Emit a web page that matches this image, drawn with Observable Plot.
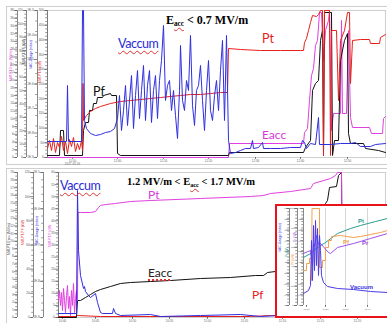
<!DOCTYPE html>
<html><head><meta charset="utf-8">
<script src="https://cdn.jsdelivr.net/npm/d3@7"></script>
<script src="https://cdn.jsdelivr.net/npm/@observablehq/plot@0.6"></script>
<style>
html,body{margin:0;padding:0;background:#fff}
body{width:387px;height:323px;overflow:hidden;position:relative}
.box{position:absolute;box-sizing:border-box;border:1px solid #cfcfcf;background:#fff}
.ch{position:absolute}
.lbl{position:absolute;font-family:Lato,"Open Sans",sans-serif;white-space:nowrap;line-height:1}
.ttl{position:absolute;font-family:"Liberation Serif",serif;font-weight:bold;white-space:nowrap;line-height:1;color:#000}
.ttl sub{font-size:0.6em;vertical-align:-0.25em;text-decoration:underline wavy #e03030;text-decoration-thickness:1px}
.sp{text-decoration:underline wavy #e03030;text-decoration-thickness:1px;text-underline-offset:2px}
.dot{text-decoration:underline dotted #e03030;text-decoration-thickness:1.5px;text-underline-offset:2px}
.il{position:absolute;font-family:"Liberation Sans",sans-serif;font-weight:bold;font-size:6px;line-height:1;white-space:nowrap}
#inset{position:absolute;left:275px;top:204px;width:114px;height:114px;box-sizing:border-box;border:2px solid #e8141c;background:#fff}
</style></head><body>
<div class="box" style="left:6px;top:6px;width:382px;height:159px"></div>
<div class="box" style="left:6px;top:168px;width:382px;height:156px"></div>
<div id="top" class="ch" style="left:7px;top:7px"></div>
<div id="bot" class="ch" style="left:7px;top:168px"></div>
<div id="inset"><div id="ins" style="position:absolute;left:0;top:0"></div></div>

<div class="ttl" style="left:166px;top:14px;font-size:12px">E<sub>acc</sub> &lt; 0.7 MV/m</div>
<div class="lbl sp" style="left:118px;top:38px;font-size:12.5px;color:#2a2ad6;letter-spacing:-0.4px">Vaccum</div>
<div class="lbl" style="left:93px;top:86px;font-size:12.5px;color:#111">Pf</div>
<div class="lbl" style="left:262px;top:33px;font-size:12.5px;color:#e8201c">Pt</div>
<div class="lbl" style="left:262px;top:129px;font-size:12px;color:#d63ad6">Eacc</div>

<div class="ttl" style="left:127px;top:177px;font-size:10.5px">1.2 MV/m &lt; E<sub>acc</sub> &lt; 1.7 MV/m</div>
<div class="lbl sp" style="left:60px;top:180px;font-size:12.5px;color:#2a2ad6;letter-spacing:-0.4px">Vaccum</div>
<div class="lbl" style="left:148px;top:189px;font-size:12px;color:#d63ad6">Pt</div>
<div class="lbl dot" style="left:148px;top:267px;font-size:12px;color:#222">Eacc</div>
<div class="lbl" style="left:252px;top:289px;font-size:12px;color:#e8201c">Pf</div>

<div class="il" style="left:358px;top:218px;color:#2a9d8f">Pt</div>
<div class="il" style="left:343px;top:239px;color:#f0a04a">Pf</div>
<div class="il" style="left:362px;top:240px;color:#9a4ae0">Pr</div>
<div class="il" style="left:350px;top:284px;color:#3a3ae0">Vacuum</div>

<script>
// ===================== DATA =====================
// Top panel (Eacc < 0.7 MV/m): [time, value] pairs, time & value in chart units
const topPt = [[0,9],[2,17],[4,7],[6,19],[8,5],[10,15],[12,10],[14,21],[16,7],[18,16],[20,4],[22,18],[24,11],[26,20],[28,6],[30,14],[32,8],[34,17],[35,7],[35.5,74],[36,37],[39,42],[43,46],[48,49],[53,51],[63,54],[73,56],[83,57],[93,58],[103,59],[113,60],[123,61],[133,62],[143,63],[153,63],[163,64],[173,65],[180,65],[181,109],[193,108],[213,107],[233,107],[253,107],[256,107],[257,115],[259,119],[261,127],[263,135],[265,142],[269,141],[271,143],[273,147],[275,147],[276,2],[277,147],[282,147],[283,2],[284,127],[289,127],[291,57],[293,117],[297,127],[300,145],[302,145],[303,74],[305,117],[313,118],[322,118],[323,114],[332,114],[333,120],[338,123]];
const topVacuum = [[0,16],[19,16],[20,72],[21,16],[34,16],[35,147],[36,147],[37,37],[39,29],[43,24],[48,22],[53,23],[58,25],[63,26],[67,29],[70,39],[72,62],[74,27],[76,47],[78,72],[80,32],[82,57],[84,82],[86,29],[88,62],[90,87],[92,39],[94,67],[96,92],[98,37],[100,72],[102,87],[104,35],[106,67],[108,82],[110,39],[112,77],[114,97],[116,132],[118,57],[120,72],[122,77],[124,47],[126,67],[128,42],[130,19],[132,67],[133,112],[135,57],[137,47],[139,77],[141,67],[143,122],[145,52],[147,32],[149,67],[151,72],[153,92],[155,57],[157,27],[159,67],[161,97],[163,47],[165,37],[167,62],[169,77],[171,47],[173,87],[175,117],[177,37],[179,122],[181,17],[183,4],[188,5],[193,7],[198,9],[203,9],[205,17],[206,9],[211,10],[215,15],[216,9],[223,9],[233,9],[243,10],[253,10],[255,17],[257,15],[259,9],[263,14],[268,13],[271,40],[272,13],[283,13],[293,14],[303,14],[308,15],[313,11],[323,11],[328,13],[338,14]];
const topPf = [[0,2],[12,2],[13,27],[16,27],[17,2],[35,2],[36,27],[38,35],[41,35],[42,47],[45,47],[46,54],[49,54],[50,60],[55,60],[56,62],[63,64],[64,62],[69,62],[70,4],[73,2],[181,2],[182,5],[256,5],[258,10],[263,17],[265,67],[268,74],[271,77],[273,117],[275,127],[276,2],[277,145],[284,145],[285,2],[287,17],[291,17],[293,97],[297,117],[300,124],[301,24],[303,14],[316,14],[318,9],[331,7],[338,5]];
const topEacc = [[0,0],[181,0],[182,14],[256,14],[257,25],[260,29],[262,57],[264,82],[266,89],[268,112],[270,117],[272,145],[274,145],[276,97],[278,127],[281,137],[282,147],[284,27],[286,44],[291,44],[293,44],[294,137],[295,44],[299,44],[301,127],[303,40],[305,30],[322,30],[324,24],[335,24],[336,39],[338,41]];
const topTimeTicks = [25,70,116,161,208,253,300];
const topTimeLabels = ["11:50\n2017-05-16","12:00","12:10","12:20","12:30","12:40","12:50"];

// Bottom panel (1.2 < Eacc < 1.7 MV/m)
const botPt = [[0,17],[1,27],[2,12],[3,25],[4,7],[5,29],[6,17],[7,5],[8,22],[9,32],[10,9],[11,21],[12,2],[13,27],[14,12],[15,34],[16,5],[17,19],[18,27],[19,17],[19.5,105],[22,105],[32,105],[37,106],[40,110],[42,112],[47,113],[57,114],[72,116],[92,117],[142,119],[192,121],[205,122],[212,124],[232,126],[252,129],[255,134],[272,139],[277,142],[279,145],[283,145],[284,2],[327,2]];
const botEacc = [[0,0],[18,0],[19,17],[22,17],[27,20],[32,23],[37,26],[42,28],[52,31],[62,34],[72,35],[92,36],[112,37],[142,39],[172,40],[197,42],[205,42],[209,45],[217,46],[242,57],[262,80],[267,114],[269,117],[271,130],[278,131],[280,142],[283,145],[284,0],[327,0]];
const botVacuum = [[0,4],[18,4],[19,127],[20,67],[22,42],[25,29],[26,31],[27,26],[30,22],[32,20],[37,24],[39,15],[42,5],[44,4],[54,4],[55,9],[57,4],[62,2],[92,3],[102,1],[142,2],[182,3],[202,1],[222,2],[279,2],[280,12],[282,1],[327,1]];
const botPf = [[0,1],[18,1],[19,2],[42,1],[192,1],[212,2],[242,2],[278,1],[280,12],[282,1],[327,2]];
const botTimeTicks = [4,37,74,111,149,186,224,262,299];
const botTimeLabels = ["10:40","10:45","10:50","10:55","11:00","11:05","11:10","11:15","11:20"];

// Inset (zoom of RF conditioning event)
const insPt = [[0,48],[7,52],[14,58],[22,63],[34,72],[47,77],[57,80],[72,84],[84,87]];
const insPf = [[0,35],[3,35],[3,42],[6,42],[6,47],[8,47],[8,25],[8.5,97],[16,97],[16,38],[19,38],[19,45],[22,45],[22,58],[25,58],[25,65],[28,65],[28,69],[37,70],[50,68],[57,69],[67,71],[77,73],[84,75]];
const insPr = [[0,52],[7,55],[9,40],[10,62],[11,59],[13,70],[15,61],[17,62],[25,53],[27,52],[34,58],[50,62],[67,67],[84,72]];
const insVacuum = [[0,12],[5,15],[7,20],[8,65],[9,25],[10,80],[11,35],[12,85],[13,40],[14,77],[15,30],[16,70],[17,55],[18,30],[20,23],[24,19],[34,17],[50,16],[67,14],[84,13]];
const insGrid = [22,42,64,84];
const insTimeTicks = [3,22,42,64];
const insTimeLabels = ["17:10","17:20","17:30","17:40"];

// Left axis tick labels
const topAxisA = ["0","2","4","6","8","10","12","14","16","18","20","22","24","26","28","30","32","34","36","38"];
const topAxisB = ["0","10","20","30","40","50","60","70","80","90","100","110"];
const topAxisC = ["1E-9","1E-8","1E-7","1E-6","1E-5","1E-4","1E-3"];
const topAxisD = ["0","50","100","150","200","250","300","350","400","450","500"];
const botAxisA = ["0","1","2","3","4","5","6","7","8","9","10","11","12","13","14","15","16","17","18","19"];
const botAxisB = ["0","20","40","60","80","100","120"];
const botAxisC = ["1E-9","1E-8","1E-7","1E-6","1E-5"];
const botAxisD = ["0","5","10","15","20","25","30","35","40","45","50","55","60"];
const insAxisA = ["0","1","2","3","4","5","6","7","8","9"];
const insAxisB = ["0","20","40","60","80","100"];
const topAxisNames = ["MW-PT-Eacc (MV/m)","MW-PT-PF (kW)","VAC-Gauge (mbar)","MW-PT-Pt (W)"];
const botAxisNames = ["MW-PT-Eacc (MV/m)","MW-PT-PF (kW)","VAC-Gauge (mbar)","MW-PT-Pt (W)"];

// ===================== HELPERS =====================
const C = {red:"#e8201c", blue:"#2f2fe0", black:"#111", mag:"#e040e0", teal:"#2a9d8f", orange:"#f5a04a", purple:"#a050e8"};
const ln = (data, stroke, w=1) => Plot.line(data, {x: d => d[0], y: d => d[1], stroke, strokeWidth: w});
function column(ymax, labels, minorN, dx, color, fs) {
  const major = labels.map((_, i) => i * ymax / (labels.length - 1));
  const m = new Map(major.map((v, i) => [v, labels[i]]));
  const minor = d3.range(minorN + 1).map(i => i * ymax / minorN);
  return [
    Plot.ruleX([0], {dx, stroke: "#555", strokeWidth: 0.7}),
    Plot.axisY({ticks: minor, tickSize: 1.8, tickFormat: () => "", dx, stroke: color, label: null, strokeWidth: 0.6}),
    Plot.axisY({ticks: major, tickSize: 3.2, tickPadding: 0.6, tickFormat: d => m.get(d) ?? "", dx, fill: color, stroke: color, fontSize: fs, label: null, strokeWidth: 0.7})
  ];
}
function xAxis(ticks, labels, fs) {
  const m = new Map(ticks.map((v, i) => [v, labels[i]]));
  return Plot.axisX({ticks, tickFormat: d => m.get(d) ?? "", tickSize: 1.8, tickPadding: 0.8, fontSize: fs, fill: "#666", stroke: "#666", label: null, lineHeight: 1});
}
const vname = (t, dx, dy, fill) => Plot.text([t], {frameAnchor: "left", dx, dy, rotate: -90, fill, fontSize: 3.4, text: d => d});

// ===================== TOP PANEL =====================
const topChart = Plot.plot({
  width: 380, height: 158, marginLeft: 40, marginRight: 2, marginTop: 3, marginBottom: 8,
  x: {domain: [0, 338]}, y: {domain: [0, 147]},
  style: {fontFamily: "Liberation Sans, sans-serif", fontSize: "4px", background: "transparent", overflow: "visible"},
  marks: [
    Plot.frame({stroke: "#bbb", strokeWidth: 0.7}),
    ...column(147, topAxisA, 40, -30, "#555", 3),
    ...column(147, topAxisB, 40, -21, "#555", 3),
    ...column(147, topAxisC, 14, -10, "#555", 3),
    ...column(147, topAxisD, 40, 0, "#555", 3),
    vname(topAxisNames[0], -37, -3, "#e040e0"),
    vname(topAxisNames[1], -24, -20, "#333"),
    vname(topAxisNames[2], -17, -15, "#3030e0"),
    vname(topAxisNames[3], -8, -1, "#e8201c"),
    xAxis(topTimeTicks, topTimeLabels, 3),
    ln(topEacc, C.mag),
    ln(topPf, C.black),
    ln(topPt, C.red),
    ln(topVacuum, C.blue)
  ]
});
document.getElementById("top").append(topChart);

// ===================== BOTTOM PANEL =====================
const botChart = Plot.plot({
  width: 380, height: 155, marginLeft: 51, marginRight: 2, marginTop: 4, marginBottom: 6,
  x: {domain: [0, 327]}, y: {domain: [0, 145]},
  style: {fontFamily: "Liberation Sans, sans-serif", fontSize: "4px", background: "transparent", overflow: "visible"},
  marks: [
    Plot.frame({stroke: "#bbb", strokeWidth: 0.7}),
    ...column(145, botAxisA, 40, -41, "#555", 3),
    ...column(145, botAxisB, 28, -25, "#555", 3),
    ...column(145, botAxisC, 20, -15, "#555", 3),
    ...column(145, botAxisD, 40, 0, "#555", 3),
    vname(botAxisNames[0], -50, 10, "#333"),
    vname(botAxisNames[1], -36, 0, "#e8201c"),
    vname(botAxisNames[2], -22, 0, "#3030e0"),
    vname(botAxisNames[3], -9, 2, "#e040e0"),
    xAxis(botTimeTicks, botTimeLabels, 3),
    ln(botPf, C.red),
    ln(botEacc, C.black),
    ln(botPt, C.mag),
    ln(botVacuum, C.blue)
  ]
});
document.getElementById("bot").append(botChart);

// ===================== INSET =====================
const insChart = Plot.plot({
  width: 110, height: 110, marginLeft: 26, marginRight: 0, marginTop: 2, marginBottom: 11,
  x: {domain: [0, 84]}, y: {domain: [0, 97]},
  style: {fontFamily: "Liberation Sans, sans-serif", fontSize: "3px", background: "transparent", overflow: "visible"},
  marks: [
    Plot.ruleX(insGrid, {stroke: "#bbb", strokeWidth: 0.6}),
    ...column(97, insAxisA, 30, -14, "#555", 2.4),
    ...column(97, insAxisB, 30, -6, "#555", 2.4),
    ...column(97, insAxisA, 30, 0, "#555", 2.4),
    vname("VAC-Gauge (mbar)", -24, -5, "#3a3ae0"),
    vname("Pt (W)", -17, 0, "#2a9d8f"),
    vname("Pf (kW)", -11, 8, "#f5a04a"),
    vname("Pr (W)", -9, -15, "#a050e8"),
    xAxis(insTimeTicks, insTimeLabels, 2.4),
    ln(insPt, C.teal),
    ln(insPf, C.orange),
    ln(insPr, C.purple),
    ln(insVacuum, "#4a3ae8")
  ]
});
document.getElementById("ins").append(insChart);
</script>
</body></html>
